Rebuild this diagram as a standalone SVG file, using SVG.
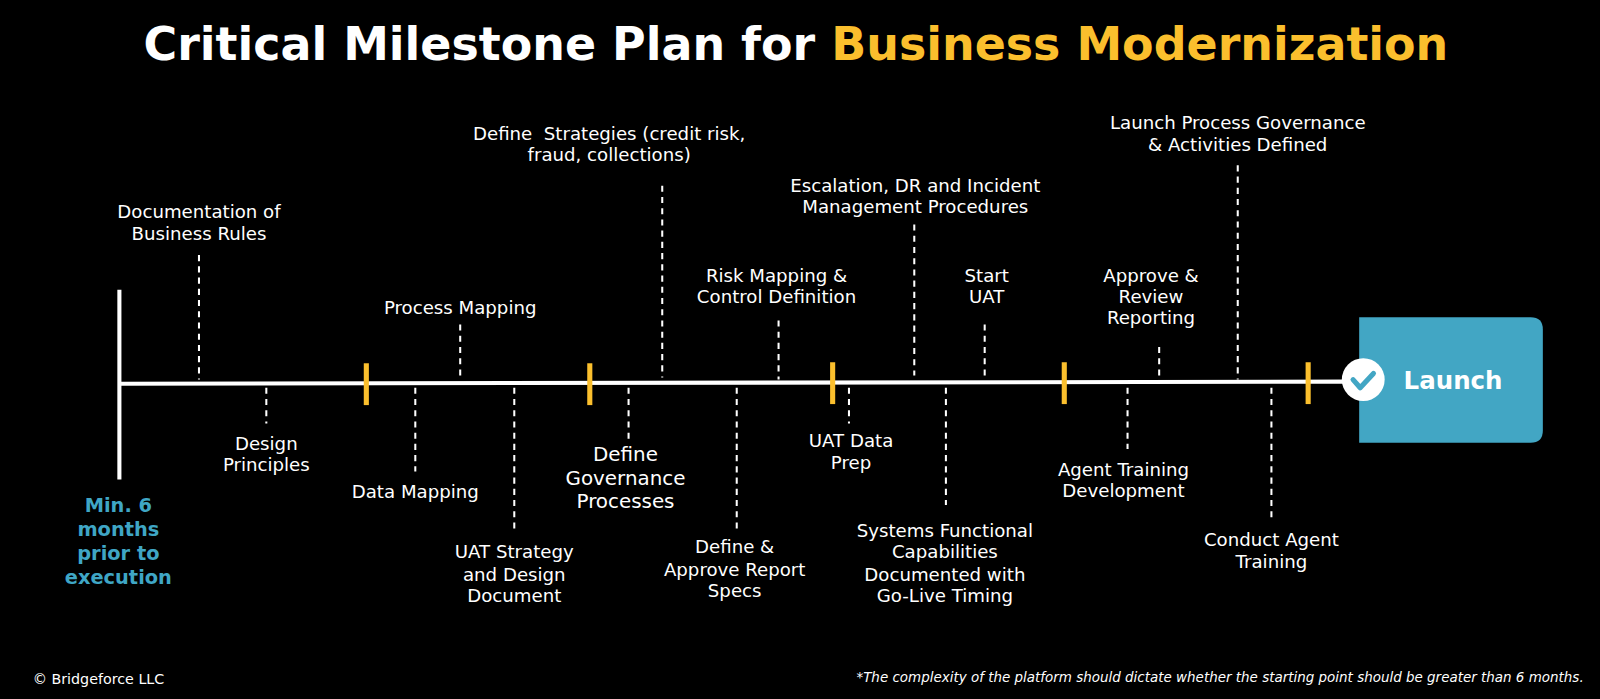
<svg xmlns="http://www.w3.org/2000/svg" width="1600" height="699" viewBox="0 0 1600 699">
<style>
.t{font-family:"DejaVu Sans",Verdana,sans-serif;font-size:17.8px;fill:#fff;text-anchor:middle}
.g{font-size:19.5px}
.d{stroke:#fff;stroke-width:2;stroke-dasharray:6,5}
.y{stroke:#fbbf2d;stroke-width:5}
</style>
<rect width="1600" height="699" fill="#000"/>
<g transform="scale(1.0204)">
<text x="780" y="59" font-family="DejaVu Sans,Verdana,sans-serif" font-weight="bold" font-size="45" text-anchor="middle" fill="#fff">Critical Milestone Plan for <tspan fill="#fbbf2d">Business Modernization</tspan></text>
<g id="connectors">
<line x1="117" y1="376" x2="1320" y2="374" stroke="#fff" stroke-width="4"/>
<line x1="117" y1="284" x2="117" y2="470" stroke="#fff" stroke-width="4"/>
<line class="y" x1="359" y1="356" x2="359" y2="397"/>
<line class="y" x1="578" y1="356" x2="578" y2="397"/>
<line class="y" x1="816" y1="355" x2="816" y2="396"/>
<line class="y" x1="1043" y1="355" x2="1043" y2="396"/>
<line class="y" x1="1282" y1="355" x2="1282" y2="396"/>
<line class="d" x1="195" y1="250" x2="195" y2="372"/>
<line class="d" x1="451" y1="318" x2="451" y2="372"/>
<line class="d" x1="649" y1="182" x2="649" y2="370"/>
<line class="d" x1="763" y1="314" x2="763" y2="372"/>
<line class="d" x1="896" y1="220" x2="896" y2="368"/>
<line class="d" x1="965" y1="318" x2="965" y2="370"/>
<line class="d" x1="1136" y1="340" x2="1136" y2="368"/>
<line class="d" x1="1213" y1="162" x2="1213" y2="372"/>
<line class="d" x1="261" y1="380" x2="261" y2="415"/>
<line class="d" x1="407" y1="380" x2="407" y2="462"/>
<line class="d" x1="504" y1="380" x2="504" y2="522"/>
<line class="d" x1="616" y1="380" x2="616" y2="430"/>
<line class="d" x1="722" y1="380" x2="722" y2="518"/>
<line class="d" x1="832" y1="380" x2="832" y2="415"/>
<line class="d" x1="927" y1="380" x2="927" y2="495"/>
<line class="d" x1="1105" y1="380" x2="1105" y2="440"/>
<line class="d" x1="1246" y1="380" x2="1246" y2="510"/>
</g>
<g id="launch">
<path d="M1332 311 H1500 Q1512 311 1512 323 V422 Q1512 434 1500 434 H1332 Z" fill="#42a6c4"/>
<circle cx="1336" cy="372" r="21" fill="#fff"/>
<path d="M1326 372 L1333 380 L1346 366" stroke="#42a6c4" stroke-width="5" fill="none" stroke-linecap="round" stroke-linejoin="round"/>
<text x="1424" y="381" font-family="DejaVu Sans,Verdana,sans-serif" font-weight="bold" font-size="24" text-anchor="middle" fill="#fff">Launch</text>
</g>
<g id="start"><text class="t" font-weight="bold" style="fill:#3fa6c5;font-size:19px"><tspan x="116" y="502">Min. 6</tspan><tspan x="116" y="525">months</tspan><tspan x="116" y="549">prior to</tspan><tspan x="116" y="572">execution</tspan></text></g>
<g id="m1"><text class="t"><tspan x="195" y="214">Documentation of</tspan><tspan x="195" y="235">Business Rules</tspan></text></g>
<g id="m2"><text class="t"><tspan x="261" y="441">Design</tspan><tspan x="261" y="462">Principles</tspan></text></g>
<g id="m3"><text class="t" x="451" y="308">Process Mapping</text></g>
<g id="m4"><text class="t" x="407" y="488">Data Mapping</text></g>
<g id="m5"><text class="t"><tspan x="504" y="547">UAT Strategy</tspan><tspan x="504" y="569">and Design</tspan><tspan x="504" y="590">Document</tspan></text></g>
<g id="m6"><text class="t" xml:space="preserve"><tspan x="597" y="137">Define  Strategies (credit risk,</tspan><tspan x="597" y="158">fraud, collections)</tspan></text></g>
<g id="m7"><text class="t g"><tspan x="613" y="452">Define</tspan><tspan x="613" y="475">Governance</tspan><tspan x="613" y="498">Processes</tspan></text></g>
<g id="m8"><text class="t"><tspan x="761" y="276">Risk Mapping &amp;</tspan><tspan x="761" y="297">Control Definition</tspan></text></g>
<g id="m9"><text class="t"><tspan x="720" y="542">Define &amp;</tspan><tspan x="720" y="564">Approve Report</tspan><tspan x="720" y="585">Specs</tspan></text></g>
<g id="m10"><text class="t"><tspan x="834" y="438">UAT Data</tspan><tspan x="834" y="460">Prep</tspan></text></g>
<g id="m11"><text class="t"><tspan x="897" y="188">Escalation, DR and Incident</tspan><tspan x="897" y="209">Management Procedures</tspan></text></g>
<g id="m12"><text class="t"><tspan x="967" y="276">Start</tspan><tspan x="967" y="297">UAT</tspan></text></g>
<g id="m13"><text class="t"><tspan x="926" y="526">Systems Functional</tspan><tspan x="926" y="547">Capabilities</tspan><tspan x="926" y="569">Documented with</tspan><tspan x="926" y="590">Go-Live Timing</tspan></text></g>
<g id="m14"><text class="t"><tspan x="1128" y="276">Approve &amp;</tspan><tspan x="1128" y="297">Review</tspan><tspan x="1128" y="318">Reporting</tspan></text></g>
<g id="m15"><text class="t"><tspan x="1101" y="466">Agent Training</tspan><tspan x="1101" y="487">Development</tspan></text></g>
<g id="m16"><text class="t"><tspan x="1213" y="126">Launch Process Governance</tspan><tspan x="1213" y="148">&amp; Activities Defined</tspan></text></g>
<g id="m17"><text class="t"><tspan x="1246" y="535">Conduct Agent</tspan><tspan x="1246" y="557">Training</tspan></text></g>
<text x="32" y="670" font-family="DejaVu Sans,Verdana,sans-serif" font-size="14" fill="#fff">© Bridgeforce LLC</text>
<text x="1552" y="668" font-family="DejaVu Sans,Verdana,sans-serif" font-size="13.2" font-style="italic" fill="#fff" text-anchor="end">*The complexity of the platform should dictate whether the starting point should be greater than 6 months.</text>
</g>
</svg>
